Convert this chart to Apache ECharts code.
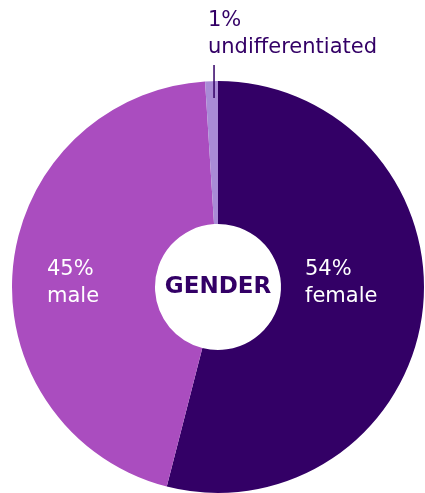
<!DOCTYPE html>
<html>
<head>
<meta charset="utf-8">
<script src="https://cdn.jsdelivr.net/npm/echarts@6/dist/echarts.min.js"></script>
<style>html,body{margin:0;padding:0;background:#fff}#c{width:425px;height:493px}</style>
</head>
<body>
<div id="c"></div>
<script>
const categories = ['female', 'male', 'undifferentiated'];
const values = [54, 45, 1];
const colors = ['#330066', '#AA4DBF', '#A98BD6'];
const centerTitle = 'GENDER';

const labelSpots = [
  {x: 305, y: 256, color: '#ffffff'},
  {x: 47, y: 256, color: '#ffffff'},
  {x: 208, y: 7, color: '#330066'}
];

const cx = 218, cy = 287, rOuter = 206, rInner = 63;

// leader line for the small slice, derived from its mid angle
const total = values.reduce((a, b) => a + b, 0);
let acc = 0;
for (let i = 0; i < 2; i++) acc += values[i];
const midFrac = (acc + values[2] / 2) / total;
const ang = midFrac * 2 * Math.PI; // clockwise from top
const lx = cx + Math.sin(ang) * (rOuter - 16) + 2;

const chart = echarts.init(document.getElementById('c'), null, {renderer: 'canvas'});
chart.setOption({
  animation: false,
  graphic: [
    {
      type: 'text', silent: true, z: 100,
      style: {
        text: centerTitle, x: cx, y: cy, align: 'center', verticalAlign: 'middle',
        font: 'bold 23px "DejaVu Sans"', fill: '#330066'
      }
    },
    {
      type: 'line', silent: true, z: 100,
      shape: {x1: lx, y1: cy - rOuter + 17, x2: lx, y2: 65},
      style: {stroke: '#330066', lineWidth: 1.5}
    }
  ],
  series: [{
    type: 'pie',
    center: [cx, cy],
    radius: [rInner, rOuter],
    startAngle: 90,
    clockwise: true,
    silent: true,
    avoidLabelOverlap: false,
    data: categories.map((n, i) => ({
      name: n, value: values[i],
      itemStyle: {color: colors[i]},
      label: {color: labelSpots[i].color, position: i === 2 ? 'outside' : 'inside'},
      labelLine: {show: false}
    })),
    label: {
      show: true,
      formatter: '{c}%\n{b}',
      fontFamily: 'DejaVu Sans',
      fontSize: 21,
      lineHeight: 27,
      align: 'left'
    },
    labelLayout: function (p) {
      const s = labelSpots[p.dataIndex];
      return {x: s.x, y: s.y, align: 'left', verticalAlign: 'top'};
    }
  }]
});
</script>
</body>
</html>
